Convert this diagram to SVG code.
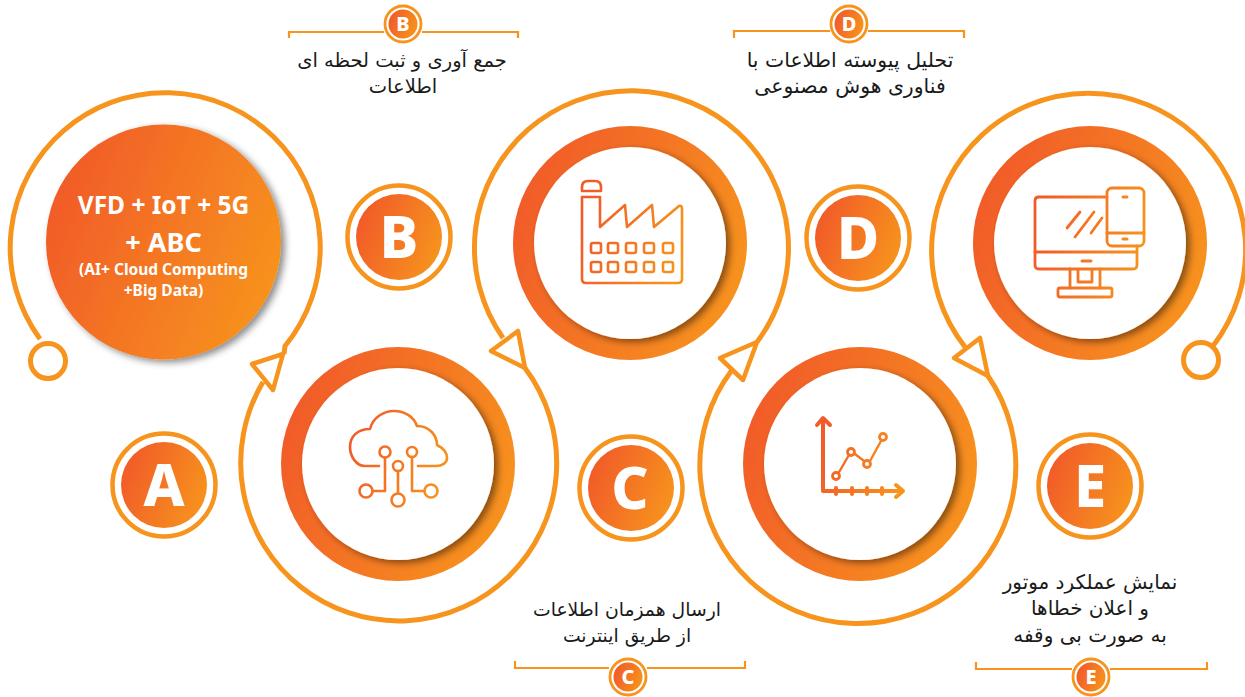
<svg xmlns="http://www.w3.org/2000/svg" width="1245" height="697" viewBox="0 0 1245 697">
<defs>
<linearGradient id="g" x1="0" y1="0.3" x2="1" y2="0.7"><stop offset="0" stop-color="#F15A29"/><stop offset="1" stop-color="#F7941D"/></linearGradient>
<linearGradient id="gCloud" gradientUnits="userSpaceOnUse" x1="350" y1="440" x2="447" y2="470"><stop offset="0" stop-color="#F15A29"/><stop offset="1" stop-color="#F7941D"/></linearGradient>
<linearGradient id="gFactory" gradientUnits="userSpaceOnUse" x1="582" y1="220" x2="682" y2="250"><stop offset="0" stop-color="#F15A29"/><stop offset="1" stop-color="#F7941D"/></linearGradient>
<linearGradient id="gScreen" gradientUnits="userSpaceOnUse" x1="1035" y1="230" x2="1144" y2="250"><stop offset="0" stop-color="#F15A29"/><stop offset="1" stop-color="#F7941D"/></linearGradient>
<linearGradient id="gChart" gradientUnits="userSpaceOnUse" x1="817" y1="450" x2="903" y2="470"><stop offset="0" stop-color="#F15A29"/><stop offset="1" stop-color="#F7941D"/></linearGradient>
<filter id="sh" x="-20%" y="-20%" width="140%" height="140%"><feDropShadow dx="4" dy="3" stdDeviation="3.500" flood-color="#000" flood-opacity="0.45"/></filter>
</defs>
<style>
.arc{fill:none;stroke:#F7941D;stroke-width:5}
.tri{fill:#fff;stroke:#F7941D;stroke-width:4.500;stroke-linejoin:round}
.br{fill:none;stroke:#F7941D;stroke-width:2.200}
.lbl{font-family:"DejaVu Sans",sans-serif;font-size:19.500px;fill:#1a1a1a;text-anchor:middle;direction:rtl}
.let{font-family:"Noto Sans",sans-serif;font-weight:800;fill:#fff;text-anchor:middle}
.ttl{font-family:"Noto Sans",sans-serif;font-weight:700;fill:#fff;text-anchor:middle}
.ring{fill:#fff;stroke:#F7941D;stroke-width:4.500}
.ic{fill:none;stroke-linecap:round;stroke-linejoin:round}
</style>
<g id="connectors">
<path class="arc" d="M40,339 A155,155 0 1 1 285,346 L284,354"/>
<circle class="arc" cx="48" cy="361" r="17.500" style="fill:#fff"/>
<path class="arc" d="M263,382 A158,158 0 1 0 525,368"/>
<path class="arc" d="M503,338 A157,157 0 1 1 757,342"/>
<path class="arc" d="M732,370 A158,158 0 1 0 988,376"/>
<path class="arc" d="M965,347 A157,157 0 1 1 1213,346"/>
<circle class="arc" cx="1201" cy="360" r="17.500" style="fill:#fff"/>
<polygon class="tri" points="252,364 283,354 273,390"/>
<polygon class="tri" points="491,351 518,331 525,368"/>
<polygon class="tri" points="720,358 757,342 743,380"/>
<polygon class="tri" points="954,358 980,338 988,376"/>
<path class="br" d="M289,38V32H384M422,32H518V38"/>
<path class="br" d="M734,38V31H830M868,31H964V38"/>
<path class="br" d="M515,661V668H609M647,668H745V661"/>
<path class="br" d="M976,662V669H1072M1110,669H1207V662"/>
</g>
<g id="node-main"><circle cx="163.500" cy="242" r="117.500" fill="url(#g)" filter="url(#sh)"/>
<text class="ttl" x="163.500" y="214" font-size="24.500">VFD + IoT + 5G</text>
<text class="ttl" x="163.500" y="252" font-size="27">+ ABC</text>
<text class="ttl" x="163.500" y="275" font-size="15.500">(AI+ Cloud Computing</text>
<text class="ttl" x="163.500" y="296" font-size="15.500">+Big Data)</text></g>
<g id="node-cloud"><circle cx="398" cy="464" r="117" fill="url(#g)"/><circle cx="398" cy="464" r="96" fill="#fff" filter="url(#sh)"/>
<g class="ic" stroke="url(#gCloud)" stroke-width="2.600"><path d="M379,466H365C356,466 350,456 350,447C350,436 358,429 370,429C373,417 384,411 394,411C405,411 414,417 417,426C429,426 437,435 437,445C443,448 447,453 447,458C447,463 442,466 436,466H418"/><circle cx="385" cy="452" r="5.500"/><circle cx="412" cy="452" r="5"/><circle cx="398" cy="466" r="5"/><circle cx="366" cy="491" r="6.500"/><circle cx="398" cy="500" r="6.500"/><circle cx="431" cy="491" r="6.500"/><path d="M385,457.500V491H372.500M412,457V491H424.500M398,471V493.500"/></g></g>
<g id="node-factory"><circle cx="630" cy="243" r="117" fill="url(#g)"/><circle cx="630" cy="243" r="96" fill="#fff" filter="url(#sh)"/>
<g class="ic" stroke="url(#gFactory)" stroke-width="2.600"><path d="M582,191V187Q582,181 588,181H595Q601,181 601,187V191Z"/><path d="M582,197V279Q582,283 586,283H678Q682,283 682,279V209Q682,205 679,206L654,227L652,205L627,227L625,205L600,227V197Z"/>
<rect x="591" y="243" width="10" height="10" rx="2"/><rect x="608" y="243" width="10" height="10" rx="2"/><rect x="626" y="243" width="10" height="10" rx="2"/><rect x="644" y="243" width="10" height="10" rx="2"/><rect x="663" y="243" width="10" height="10" rx="2"/>
<rect x="591" y="262" width="10" height="10" rx="2"/><rect x="608" y="262" width="10" height="10" rx="2"/><rect x="626" y="262" width="10" height="10" rx="2"/><rect x="644" y="262" width="10" height="10" rx="2"/><rect x="663" y="262" width="10" height="10" rx="2"/></g></g>
<g id="node-chart"><circle cx="860" cy="464" r="117" fill="url(#g)"/><circle cx="860" cy="464" r="96" fill="#fff" filter="url(#sh)"/>
<g class="ic" stroke="url(#gChart)"><path stroke-width="4" d="M823,419V491H901M817,425L823,418L830,425M896,485L903,491L896,497"/><path stroke-width="4" d="M836,488V494M852,488V494M867,488V494M882,488V494"/><path stroke-width="2.400" d="M838.500,473L849,455M855,454L864,461M870,461L881,441"/><circle stroke-width="2.800" cx="836" cy="476" r="3.500"/><circle stroke-width="2.800" cx="851" cy="452" r="3.500"/><circle stroke-width="2.800" cx="867" cy="464" r="3.500"/><circle stroke-width="2.800" cx="883" cy="437" r="3.500"/></g></g>
<g id="node-devices"><circle cx="1090" cy="243" r="117" fill="url(#g)"/><circle cx="1090" cy="243" r="96" fill="#fff" filter="url(#sh)"/>
<g class="ic" stroke="url(#gScreen)" stroke-width="2.800"><path d="M1107,197H1039Q1035,197 1035,201V265Q1035,269 1039,269H1133Q1137,269 1137,265V246"/><path d="M1035,252H1137"/><rect x="1107" y="188" width="37" height="58" rx="5"/><path d="M1107,233H1144"/><path stroke-width="3" d="M1123,197H1127M1123,239H1127M1082,261H1091"/><path d="M1067,228L1080,212M1075,237L1094,212M1091,233L1102,218"/><path d="M1070,269V288M1100,269V288M1078,270V282H1092V270"/><rect x="1058" y="288" width="54" height="9" rx="2"/></g></g>
<g id="badge-A"><circle class="ring" cx="164" cy="485" r="51.500"/><circle cx="164" cy="485" r="43" fill="url(#g)"/><text class="let" x="164" y="506" font-size="58">A</text></g>
<g id="badge-B"><circle class="ring" cx="399" cy="237" r="51.500"/><circle cx="399" cy="237" r="43" fill="url(#g)"/><text class="let" x="399" y="258" font-size="58">B</text></g>
<g id="badge-C"><circle class="ring" cx="631" cy="488" r="51.500"/><circle cx="631" cy="488" r="43" fill="url(#g)"/><text class="let" x="630" y="509" font-size="58">C</text></g>
<g id="badge-D"><circle class="ring" cx="858" cy="238" r="51.500"/><circle cx="858" cy="238" r="43" fill="url(#g)"/><text class="let" x="858" y="259" font-size="58">D</text></g>
<g id="badge-E"><circle class="ring" cx="1090" cy="486" r="51.500"/><circle cx="1090" cy="486" r="43" fill="url(#g)"/><text class="let" x="1090" y="507" font-size="58">E</text></g>
<g id="tag-B"><circle cx="403" cy="24" r="18" fill="#fff" stroke="#F7941D" stroke-width="2.800"/><circle cx="403" cy="24" r="14.500" fill="url(#g)"/><text class="let" x="403" y="31" font-size="20">B</text><text class="lbl" x="402" y="67">جمع آوری و ثبت لحظه ای</text><text class="lbl" x="403" y="93">اطلاعات</text></g>
<g id="tag-D"><circle cx="849" cy="24" r="18" fill="#fff" stroke="#F7941D" stroke-width="2.800"/><circle cx="849" cy="24" r="14.500" fill="url(#g)"/><text class="let" x="849" y="31" font-size="20">D</text><text class="lbl" x="850" y="67" style="font-size:20.400px">تحلیل پیوسته اطلاعات با</text><text class="lbl" x="850" y="93" style="font-size:20.400px">فناوری هوش مصنوعی</text></g>
<g id="tag-C"><circle cx="628" cy="677" r="18" fill="#fff" stroke="#F7941D" stroke-width="2.800"/><circle cx="628" cy="677" r="14.500" fill="url(#g)"/><text class="let" x="628" y="684" font-size="20">C</text><text class="lbl" x="627" y="616" style="font-size:18.800px">ارسال همزمان اطلاعات</text><text class="lbl" x="627" y="642" style="font-size:18.800px">از طریق اینترنت</text></g>
<g id="tag-E"><circle cx="1091" cy="677" r="18" fill="#fff" stroke="#F7941D" stroke-width="2.800"/><circle cx="1091" cy="677" r="14.500" fill="url(#g)"/><text class="let" x="1091" y="684" font-size="20">E</text><text class="lbl" x="1090" y="589" style="font-size:20px">نمایش عملکرد موتور</text><text class="lbl" x="1090" y="615" style="font-size:20px">و اعلان خطاها</text><text class="lbl" x="1090" y="642" style="font-size:20px">به صورت بی وقفه</text></g>
</svg>
